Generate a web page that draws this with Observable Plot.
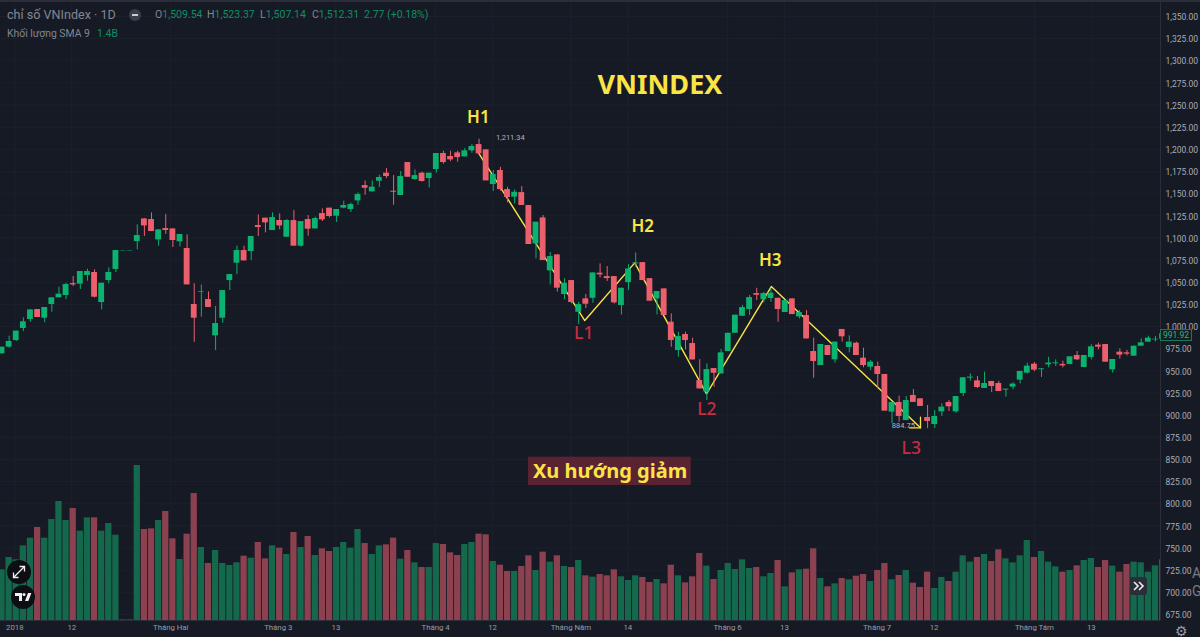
<!DOCTYPE html>
<html lang="vi">
<head>
<meta charset="utf-8">
<script src="https://cdn.jsdelivr.net/npm/d3@7"></script>
<script src="https://cdn.jsdelivr.net/npm/@observablehq/plot@0.6"></script>
<style>
html,body{margin:0;padding:0;background:#161a25;overflow:hidden}
#wrap{position:relative;width:1200px;height:637px;font-family:Roboto,"Noto Sans",sans-serif}
#wrap>svg{display:block;background:#161a25}
.ov{position:absolute;white-space:nowrap;line-height:1}
</style>
</head>
<body>
<div id="wrap"></div>
<script>
const open = [969.2,976.7,984.2,997.8,1007.9,1019.2,1009.4,1024.9,1032.4,1035.0,
1048.5,1047.8,1057.6,1061.0,1027.1,1051.9,1064.4,1085.4,1085.0,1095.9,
1121.5,1120.8,1097.8,1110.6,1110.2,1095.6,1088.1,1024.9,1038.8,1030.5,
989.5,1009.4,1051.9,1071.5,1085.8,1084.7,1114.0,1122.3,1108.4,1119.7,
1100.8,1119.6,1090.7,1120.8,1110.2,1127.5,1133.6,1124.5,1133.6,1132.1,
1141.8,1159.1,1152.0,1164.0,1173.1,1152.7,1147.9,1185.1,1165.9,1173.1,
1167.0,1177.2,1195.3,1191.9,1196.0,1191.5,1198.3,1205.4,1199.4,1160.3,
1176.1,1154.6,1146.0,1151.2,1136.6,1093.3,1122.6,1062.8,1080.9,1036.1,
1051.9,1016.1,1031.2,1031.9,1060.2,1056.4,1056.4,1023.7,1049.6,1070.7,
1072.2,1054.1,1031.2,1042.5,1004.9,972.9,991.0,980.8,939.0,925.9,
952.6,946.5,971.8,992.4,1011.6,1019.2,1037.2,1030.4,1031.6,1031.9,
1015.8,1031.2,1010.9,1012.4,971.8,956.0,978.6,962.4,996.7,976.3,
981.2,964.3,954.1,954.9,945.9,903.4,914.3,893.9,922.2,918.4,
897.3,889.4,903.7,914.3,903.7,924.4,941.7,938.7,930.1,938.0,
935.7,928.2,931.6,939.5,947.4,957.5,951.3,956.8,958.0,957.2,
957.2,967.3,953.8,965.1,979.0,979.7,951.1,971.1,970.3,966.6,
977.8,982.4,984.9,985.7];
const close = [976.7,983.1,994.8,1005.3,1018.8,1010.2,1021.5,1032.4,1036.5,1047.4,
1047.0,1062.1,1062.1,1033.1,1048.9,1061.0,1085.8,1085.8,1085.4,1102.7,
1113.6,1107.2,1109.1,1108.4,1097.1,1103.9,1047.0,1009.4,1039.5,1021.5,
1003.4,1040.6,1058.7,1085.8,1074.1,1101.6,1111.8,1117.0,1123.0,1113.6,
1119.7,1090.7,1118.5,1109.9,1121.9,1120.4,1124.2,1132.1,1136.6,1137.7,
1149.0,1156.1,1157.3,1168.2,1169.3,1151.6,1169.3,1168.5,1170.4,1163.7,
1173.1,1195.3,1185.1,1188.1,1190.7,1198.3,1203.2,1194.9,1164.4,1171.6,
1154.6,1145.6,1151.6,1136.6,1092.6,1117.8,1074.5,1079.0,1043.3,1048.9,
1027.1,1024.8,1025.2,1060.5,1058.3,1054.1,1026.7,1043.2,1065.0,1071.8,
1051.9,1028.6,1039.5,1012.4,984.2,988.7,984.2,962.3,929.6,951.4,
947.3,970.3,992.4,1012.8,1021.4,1032.7,1035.3,1037.2,1037.6,1019.2,
1029.3,1013.5,1015.8,986.0,960.5,979.7,967.3,982.4,988.4,982.4,
967.3,956.0,959.8,945.9,904.5,914.3,898.5,916.5,914.3,909.8,
892.8,898.5,909.0,909.4,921.0,942.1,942.9,931.2,935.7,932.3,
926.7,929.3,935.0,949.3,955.3,950.8,952.3,958.7,959.0,955.6,
965.8,962.4,967.3,977.1,976.7,959.8,962.8,967.7,968.8,977.8,
981.6,986.9,985.7,991.92];
const high = [976.7,989.1,994.8,1009.8,1018.8,1019.2,1021.5,1032.4,1044.4,1048.9,
1056.5,1062.1,1064.7,1064.0,1048.9,1066.2,1085.8,1085.8,1085.4,1114.8,
1121.5,1128.3,1109.1,1126.4,1110.2,1103.9,1103.5,1048.2,1047.0,1039.1,
1022.6,1040.6,1058.7,1090.7,1090.7,1101.6,1126.0,1122.3,1128.3,1127.2,
1120.8,1130.9,1118.5,1125.3,1123.4,1132.8,1133.6,1132.1,1141.5,1139.2,
1150.9,1164.4,1164.4,1170.8,1178.3,1170.4,1174.9,1185.1,1176.8,1174.2,
1173.1,1195.3,1197.9,1197.9,1197.9,1200.9,1205.4,1211.34,1199.4,1176.1,
1179.8,1157.3,1154.2,1158.0,1136.6,1117.8,1125.3,1083.5,1080.9,1053.8,
1051.9,1027.4,1036.1,1060.5,1070.7,1067.7,1056.4,1043.2,1069.9,1083.1,
1072.2,1054.1,1039.5,1042.5,1014.3,993.6,993.6,986.8,962.7,957.8,
952.6,974.0,992.4,1012.8,1023.7,1035.0,1043.2,1038.7,1042.5,1031.9,
1029.3,1031.2,1018.0,1018.0,986.9,979.7,978.6,982.4,996.7,989.5,
982.4,975.6,961.7,959.8,945.9,914.3,921.4,921.0,928.9,918.4,
910.9,905.2,912.8,916.5,921.0,942.1,946.6,943.6,948.5,938.0,
938.0,929.3,936.5,949.3,958.7,959.4,952.3,965.4,962.4,960.9,
965.8,971.8,967.3,979.4,981.2,979.7,962.8,974.8,973.0,977.8,
986.1,989.1,988.8,993];
const low = [969.2,975.6,983.1,994.4,1004.9,1010.2,1004.2,1016.2,1032.4,1030.5,
1045.2,1041.8,1051.2,1032.4,1018.8,1048.2,1061.0,1085.4,1085.0,1086.5,
1101.6,1107.2,1090.7,1103.9,1089.2,1089.9,1047.0,982.3,1010.6,1021.5,
972.9,1003.8,1040.6,1058.7,1074.1,1074.5,1101.6,1105.7,1108.4,1109.1,
1100.8,1090.7,1089.5,1101.9,1110.2,1118.5,1122.6,1117.4,1132.8,1128.7,
1136.9,1148.2,1152.0,1156.9,1167.0,1136.9,1147.9,1168.5,1165.2,1162.9,
1156.5,1173.1,1183.2,1186.2,1185.5,1191.5,1195.6,1193.7,1164.4,1152.4,
1152.7,1139.6,1138.4,1136.6,1092.6,1076.4,1074.5,1047.0,1038.8,1030.5,
1025.6,1002.2,1020.3,1026.3,1054.9,1050.8,1025.5,1013.1,1040.6,1066.9,
1051.9,1028.6,1013.1,1012.4,976.6,965.4,973.6,962.3,929.6,916.5,
931.5,946.5,971.8,992.4,1011.6,1012.4,1029.3,1026.7,1027.4,1004.9,
1015.8,1013.5,1008.6,986.0,941.7,956.0,967.3,958.7,982.4,970.3,
967.3,953.4,950.4,929.7,904.5,890.2,892.1,893.9,914.3,909.8,
884.75,885.0,898.5,904.1,902.2,921.0,938.3,930.1,930.1,925.6,
926.7,920.3,928.6,935.3,946.6,948.9,942.5,953.4,954.9,953.4,
956.8,961.7,953.8,962.4,973.7,959.8,947.4,963.2,966.9,966.6,
977.8,982.4,982.7,985];
const volume = [152,189,182,224,247,279,247,303,357,300,
336,268,308,308,268,291,256,2,2,465,
273,275,300,327,245,183,259,381,219,171,
210,171,165,173,193,187,234,185,224,217,
198,264,219,252,195,215,207,219,234,217,
273,231,198,224,227,247,184,210,173,159,
159,231,228,203,195,228,234,259,257,177,
166,147,147,162,194,150,205,175,194,162,
159,180,134,130,138,134,152,131,120,134,
129,114,123,110,166,134,113,131,201,163,
123,150,171,153,182,156,159,131,141,180,
101,143,152,154,215,126,101,110,126,122,
133,138,117,150,171,122,135,150,112,99,
145,96,129,117,145,194,175,189,198,177,
212,185,173,194,240,189,207,175,161,145,
150,164,180,186,159,180,163,145,168,175,
173,145,164,182];

const priceTicks = d3.range(675, 1351, 25);
const timeTickIndex = [1.8,9.8,23.7,38.8,46.9,60.9,68.9,79.9,87.9,101.9,109.9,122.9,130.9,145,153];
const timeTickLabel = ["2018","12","Tháng Hai","Tháng 3","13","Tháng 4","12","Tháng Năm","14","Tháng 6","13","Tháng 7","12","Tháng Tám","13"];

const zigIndex = [66.88,81.85,88.87,98.95,108.05,129.0];
const zigPrice = [1196.7,1006.8,1071.9,924.0,1045.1,885.7];
const arrowIndex = [127.46,129.0,129.0];
const arrowPrice = [885.7,885.7,897.6];

const peakNames = ["H1","H2","H3"];
const peakIndex = [66.9,90,107.9];
const peakPrice = [1235.9,1112.9,1074.5];
const lowNames = ["L1","L2","L3"];
const lowIndex = [81.7,99,127.7];
const lowPrice = [991.8,906.3,862];
const extremeText = ["1,211.34","884.75"];
const extremeIndex = [71.4,126.6];
const extremePrice = [1212.8,888.3];

const volumeBase = 668.2, volumeFactor = 0.3762;

const rows = open.map((o,i)=>({i,open:o,close:close[i],high:high[i],low:low[i],vol:volume[i],up:close[i]>=o}));
const UP="#0bb270", DOWN="#ec5f6d", VUP="#14694d", VDOWN="#8b414f", YEL="#fbe444", RED="#c62c42";
const pick = (a,b)=>d=>d.up?a:b;
const font = 'Roboto, "Noto Sans", sans-serif';

const chart = Plot.plot({
  width:1200,height:637,marginLeft:0,marginRight:40,marginTop:0,marginBottom:17,
  style:{background:"#161a25",fontFamily:font,overflow:"hidden"},
  x:{type:"linear",domain:[-0.21,162.71],axis:null},
  y:{type:"linear",domain:[volumeBase,1368],axis:null},
  marks:[
    Plot.ruleY(priceTicks,{stroke:"#1c202c",strokeWidth:1}),
    Plot.ruleX(timeTickIndex,{stroke:"#1c202c",strokeWidth:1}),
    Plot.rect(rows,{x1:d=>d.i-0.44,x2:d=>d.i+0.44,y1:()=>volumeBase,y2:d=>volumeBase+d.vol*volumeFactor,fill:pick(VUP,VDOWN),clip:true}),
    Plot.line(zigIndex.map((x,k)=>({x,y:zigPrice[k]})),{x:"x",y:"y",stroke:YEL,strokeWidth:1.4}),
    Plot.line(arrowIndex.map((x,k)=>({x,y:arrowPrice[k]})),{x:"x",y:"y",stroke:YEL,strokeWidth:1.3}),
    Plot.ruleX(rows,{x:"i",y1:"low",y2:"high",stroke:pick(UP,DOWN),strokeWidth:1,clip:true}),
    Plot.rect(rows,{x1:d=>d.i-0.41,x2:d=>d.i+0.41,y1:"open",y2:"close",fill:pick(UP,DOWN),clip:true}),
    Plot.text(peakNames,{x:(d,k)=>peakIndex[k],y:(d,k)=>peakPrice[k],text:d=>d,fill:YEL,fontSize:17,fontWeight:600,fontFamily:'"Noto Sans",sans-serif'}),
    Plot.text(lowNames,{x:(d,k)=>lowIndex[k],y:(d,k)=>lowPrice[k],text:d=>d,fill:RED,fontSize:17.5,fontWeight:500,fontFamily:'"Noto Sans",sans-serif'}),
    Plot.text(extremeText,{x:(d,k)=>extremeIndex[k],y:(d,k)=>extremePrice[k],text:d=>d,fill:"#b2b5be",fontSize:7.5}),
    Plot.text(["VNINDEX"],{x:[92.4],y:[1272.5],text:d=>d,fill:YEL,fontSize:27,fontWeight:700,fontFamily:'"Noto Sans",sans-serif'}),
    Plot.rect([0],{x1:[73.95],x2:[96.8],y1:[820.5],y2:[852.5],fill:"#5a2331"}),
    Plot.text(["Xu hướng giảm"],{x:[85.4],y:[836.3],text:d=>d,fill:YEL,fontSize:20,fontWeight:700,fontFamily:'"Noto Sans",sans-serif'}),
    Plot.axisY(priceTicks,{anchor:"right",tickSize:0,tickPadding:5,label:null,fontSize:8.5,dy:1,color:"#a9acb6",
      tickFormat:d=>d3.format(",.2f")(d)}),
    Plot.axisX(timeTickIndex,{anchor:"bottom",tickSize:0,tickPadding:4,label:null,fontSize:7.8,color:"#9a9da8",
      tickFormat:d=>timeTickLabel[timeTickIndex.indexOf(d)]}),
    Plot.ruleX([162.71],{stroke:"#2a2e39"}),
    Plot.ruleY([volumeBase],{stroke:"#2a2e39"})
  ]
});
const wrap=document.getElementById("wrap");
wrap.appendChild(chart);

function ov(html,css){const d=document.createElement("div");d.className="ov";d.style.cssText=css;d.innerHTML=html;wrap.appendChild(d);return d;}
const G="#0e8f64", T="#838691";
ov("","left:0;top:0;width:1200px;height:2px;background:#2a2e39");
ov("chỉ số VNIndex · 1D",`left:7px;top:9px;font-size:12.6px;color:${T}`);
ov("",`left:129px;top:9px;width:12px;height:12px;border-radius:50%;background:#3a3e4a`);
ov("",`left:132px;top:14px;width:6px;height:2px;background:#c9cbd2`);
const seg=[["O","1,509.54",155],["H","1,523.37",207],["L","1,507.14",260],["C","1,512.31",312]];
seg.forEach(([a,b,x])=>ov(`<span style="color:${T}">${a}</span><span style="color:${G}">${b}</span>`,`left:${x}px;top:10px;font-size:10.5px`));
ov("2.77 (+0.18%)",`left:364px;top:10px;font-size:10.5px;color:${G}`);
ov("Khối lượng SMA 9",`left:7px;top:28.5px;font-size:10.4px;color:${T}`);
ov("1.4B",`left:97px;top:28.5px;font-size:10.4px;color:${G}`);
ov("991.92",`left:1160px;top:329px;width:30px;height:9px;padding:1px 0 0;border:1px solid #14785a;background:#14201f;color:#3fae88;font-size:8.5px;text-align:center`);
ov(`<svg width="24" height="24" viewBox="0 0 24 24" style="display:block"><g stroke="#eeeef2" stroke-width="1.3" fill="none"><path d="M6.5 17.5L17.5 6.5M12.5 6.5h5v5M6.5 12.5v5h5"/></g></svg>`,`left:7px;top:560px;width:24px;height:24px;border-radius:50%;background:#0c0e14`);
ov(`<svg width="24" height="24" viewBox="0 0 24 24" style="display:block"><g fill="#f0f0f3"><path d="M4 8h7v8H8v-5H4z"/><circle cx="13" cy="9.5" r="1.5"/><path d="M17 8h3.4l-3 8h-3.4z"/></g></svg>`,`left:11px;top:585px;width:24px;height:24px;border-radius:50%;background:#0c0e14`);
ov(`<svg width="17" height="18" viewBox="0 0 17 18" style="display:block"><g stroke="#eeeef2" stroke-width="1.6" fill="none"><path d="M4 5l4 4-4 4M9 5l4 4-4 4"/></g></svg>`,`left:1130px;top:577px;width:17px;height:18px;border-radius:3px;background:#2a2e39`);
ov("A",`left:1192px;top:566px;font-size:14px;color:#787b86`);
ov("G",`left:1192px;top:584px;font-size:14px;color:#787b86`);
ov("⚙",`left:1175px;top:624px;font-size:14px;color:#9a9da8;font-family:'DejaVu Sans'`);
</script>
</body>
</html>
